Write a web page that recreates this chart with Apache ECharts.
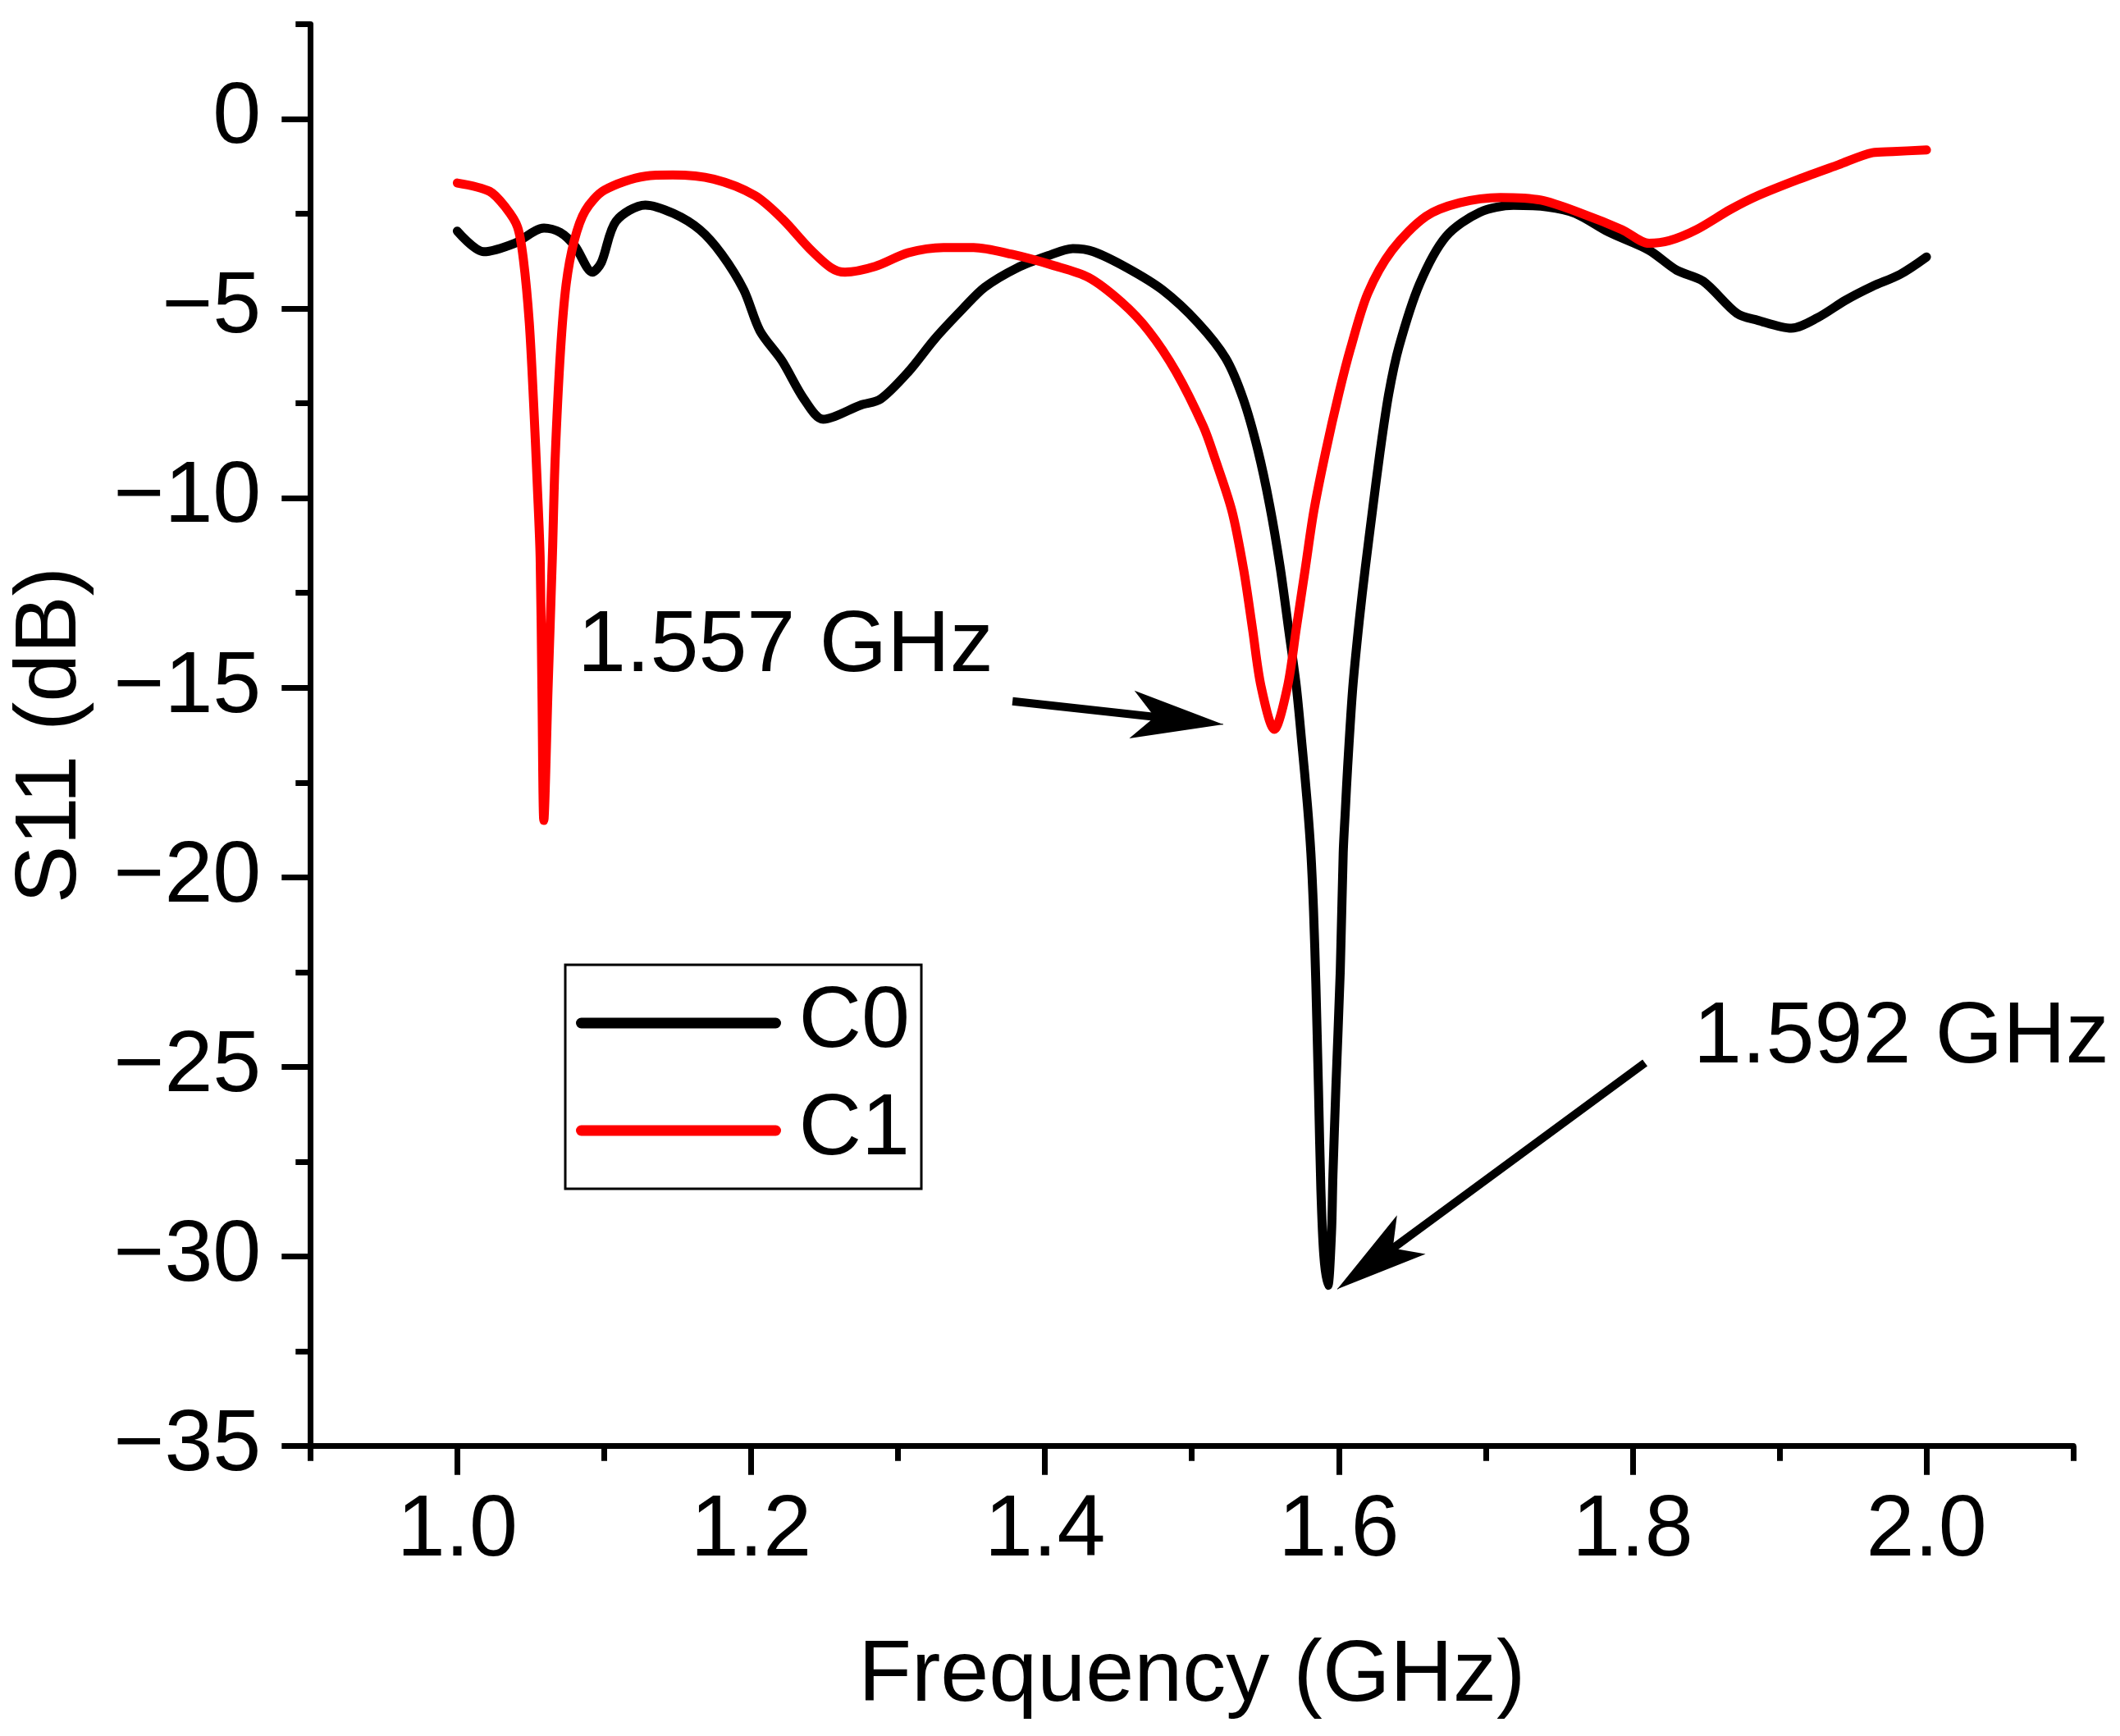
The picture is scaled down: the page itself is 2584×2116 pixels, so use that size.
<!DOCTYPE html>
<html>
<head>
<meta charset="utf-8">
<title>S11</title>
<script src="https://cdn.jsdelivr.net/npm/echarts@6/dist/echarts.min.js"></script>
<style>
  html, body { margin: 0; padding: 0; background: #fff; }
  #chart { width: 2584px; height: 2116px; }
</style>
</head>
<body>
<div id="chart"></div>
<script>
// tick labels
var xTicks = ['0.9', '1.0', '1.1', '1.2', '1.3', '1.4', '1.5', '1.6', '1.7', '1.8', '1.9', '2.0', '2.1'];
var yTicks = ['-35', '-32.5', '-30', '-27.5', '-25', '-22.5', '-20', '-17.5', '-15', '-12.5', '-10', '-7.5', '-5', '-2.5', '0', '2.5'];

// C0 (black)
var c0Freq = [1.000, 1.018, 1.039, 1.059, 1.070, 1.080, 1.092, 1.098, 1.108, 1.128, 1.147, 1.165, 1.180, 1.195,
  1.206, 1.221, 1.236, 1.249, 1.275, 1.288, 1.307, 1.325, 1.344, 1.359, 1.381, 1.402, 1.419, 1.433, 1.456,
  1.480, 1.504, 1.523, 1.535, 1.545, 1.553, 1.560, 1.566, 1.5711, 1.5750, 1.5786, 1.5810, 1.5828, 1.5844, 1.5862,
  1.5878, 1.5898, 1.5926, 1.5950, 1.5960, 1.5980, 1.6010, 1.6030, 1.6045, 1.6060, 1.6095, 1.6140, 1.6180, 1.6230,
  1.6280, 1.6340, 1.641, 1.655, 1.673,
  1.696, 1.719, 1.742, 1.761, 1.784, 1.811, 1.830, 1.848, 1.871, 1.885, 1.908, 1.926, 1.945, 1.963, 1.982, 2.000];
var c0S11 = [-2.96, -3.50, -3.28, -2.88, -2.99, -3.35, -4.04, -3.79, -2.70, -2.27, -2.49, -2.92, -3.57, -4.51,
  -5.59, -6.38, -7.39, -7.92, -7.54, -7.39, -6.67, -5.80, -5.01, -4.44, -3.93, -3.61, -3.42, -3.50, -3.93,
  -4.51, -5.37, -6.31, -7.39, -8.75, -10.20, -11.80, -13.50, -14.97, -16.53, -18.07, -19.36, -20.88, -22.83, -25.64,
  -28.23, -29.97, -30.76, -29.40, -27.87, -25.55, -22.46, -19.36, -18.20, -17.10, -15.00, -13.20, -11.85, -10.30,
  -8.80, -7.25, -6.00, -4.35, -3.10,
  -2.46, -2.28, -2.32, -2.49, -2.99, -3.46, -3.99, -4.28, -5.13, -5.31, -5.52, -5.24, -4.78, -4.42, -4.10, -3.64];

// C1 (red)
var c1Freq = [1.000, 1.022, 1.033, 1.041, 1.045, 1.049, 1.052, 1.0545, 1.0564, 1.0576, 1.0589, 1.0618, 1.0647,
  1.0666, 1.0703, 1.0741, 1.0796, 1.0871, 1.1001, 1.1281, 1.1467, 1.1746, 1.2025, 1.2211, 1.2398, 1.2546, 1.2639,
  1.2844, 1.3068, 1.3310, 1.3514, 1.3775, 1.4054, 1.4296, 1.4520, 1.4706, 1.4892, 1.5078, 1.5152, 1.5272, 1.5352,
  1.5412, 1.5471, 1.5561, 1.5651, 1.5711, 1.5771, 1.5830, 1.5910, 1.6000, 1.608, 1.6197, 1.6363, 1.6593, 1.6823,
  1.7100, 1.7376, 1.7652, 1.7928, 1.8112, 1.8250, 1.8435, 1.8665, 1.8849, 1.9125, 1.9401, 1.9632, 1.9770, 2.0000];
var c1S11 = [-1.69, -1.91, -2.34, -2.85, -3.71, -5.37, -7.54, -9.70, -11.57, -15.0, -18.5, -15.0, -11.57,
  -8.98, -6.09, -4.36, -3.21, -2.42, -1.88, -1.51, -1.48, -1.59, -2.02, -2.63, -3.42, -3.93, -4.04,
  -3.89, -3.53, -3.39, -3.39, -3.57, -3.86, -4.18, -4.83, -5.59, -6.67, -8.11, -8.9, -10.33, -11.88,
  -13.43, -14.97, -16.10, -14.97, -13.43, -11.88, -10.34, -8.79, -7.25, -6.05, -4.60, -3.46, -2.57, -2.21,
  -2.07, -2.14, -2.49, -2.92, -3.28, -3.21, -2.92, -2.39, -2.03, -1.60, -1.21, -0.89, -0.86, -0.82];

// annotations: [x, y] in data units; neck = where the shaft stops under the head
var note1 = { text: '1.557 GHz', at: [1.0819, -13.93], from: [1.3779, -15.355], neck: [1.5057, -15.90], to: [1.5213, -15.965] };
var note2 = { text: '1.592 GHz', at: [1.8414, -24.24], from: [1.8084, -24.89], neck: [1.6116, -30.50], to: [1.599, -30.86] };

var FONT = 'Liberation Sans, Arial, sans-serif';
var FS = 106;

function pairs(xs, ys) {
  var out = [];
  for (var i = 0; i < xs.length; i++) out.push([xs[i], ys[i]]);
  return out;
}
function noteLabel(n) {
  return {
    coord: n.at, symbolSize: 0,
    label: { show: true, position: 'right', distance: 0, formatter: n.text,
      color: '#000', fontSize: FS, fontFamily: FONT }
  };
}
function noteShaft(n) {
  return [{ coord: n.from, symbol: 'none' }, { coord: n.neck, symbol: 'none' }];
}
function noteHead(n) {
  return [{ coord: n.neck, symbol: 'none', lineStyle: { width: 1 } }, { coord: n.to, symbol: 'arrow' }];
}

var chart = echarts.init(document.getElementById('chart'), null, { renderer: 'canvas' });

var hiddenAxis = {
  axisLine: { show: false, onZero: false }, axisTick: { show: false },
  axisLabel: { show: false }, splitLine: { show: false }
};

var option = {
  animation: false,
  backgroundColor: '#fff',
  grid: { left: 378.3, right: 56.8, top: 29.4, bottom: 353.3, containLabel: false },
  legend: {
    orient: 'vertical', left: 689, top: 1176,
    padding: [18, 14, 18, 13], itemGap: 25,
    itemWidth: 237, itemHeight: 13,
    borderColor: '#000', borderWidth: 3, borderRadius: 0,
    selectedMode: false,
    lineStyle: { width: 13, cap: 'round' },
    textStyle: { color: '#000', fontSize: FS, fontFamily: FONT, lineHeight: FS, padding: [0, 0, 0, 23] },
    data: ['C0', 'C1']
  },
  xAxis: [
    Object.assign({ type: 'value', min: 0.9, max: 2.1 }, hiddenAxis),
    {
      type: 'category', data: xTicks, boundaryGap: false, position: 'bottom',
      axisLine: { show: true, onZero: false, lineStyle: { color: '#000', width: 7 } },
      axisTick: { show: true, interval: 0, length: 18, lineStyle: { color: '#000', width: 7 } },
      axisLabel: { show: false }, splitLine: { show: false }
    },
    {
      type: 'category', data: xTicks, boundaryGap: false, position: 'bottom',
      axisLine: { show: false, onZero: false },
      axisTick: { show: true, length: 35, interval: function (i) { return i % 2 === 1; },
        lineStyle: { color: '#000', width: 7 } },
      axisLabel: { show: true, margin: 51, interval: function (i) { return i % 2 === 1; },
        color: '#000', fontSize: FS, fontFamily: FONT },
      splitLine: { show: false },
      name: 'Frequency (GHz)', nameLocation: 'middle', nameGap: 228,
      nameTextStyle: { color: '#000', fontSize: FS, fontFamily: FONT }
    }
  ],
  yAxis: [
    Object.assign({ type: 'value', min: -35, max: 2.5 }, hiddenAxis),
    {
      type: 'category', data: yTicks, boundaryGap: false, position: 'left',
      axisLine: { show: true, onZero: false, lineStyle: { color: '#000', width: 7 } },
      axisTick: { show: true, interval: 0, length: 18, lineStyle: { color: '#000', width: 7 } },
      axisLabel: { show: false }, splitLine: { show: false }
    },
    {
      type: 'category', data: yTicks, boundaryGap: false, position: 'left',
      axisLine: { show: false, onZero: false },
      axisTick: { show: true, length: 35, interval: function (i) { return i % 2 === 0; },
        lineStyle: { color: '#000', width: 7 } },
      axisLabel: { show: true, margin: 60, interval: function (i) { return i % 2 === 0; },
        color: '#000', fontSize: FS, fontFamily: FONT, padding: [0, 0, 13, 0],
        formatter: function (v) { return v.replace('-', '\u2212'); } },
      splitLine: { show: false },
      name: 'S11 (dB)', nameLocation: 'middle', nameRotate: 90, nameGap: 263,
      nameTextStyle: { color: '#000', fontSize: FS, fontFamily: FONT }
    }
  ],
  series: [
    {
      name: 'C0', type: 'line', xAxisIndex: 0, yAxisIndex: 0,
      data: pairs(c0Freq, c0S11),
      showSymbol: false, symbol: 'none', smooth: 0.3,
      lineStyle: { color: '#000', width: 11, join: 'round', cap: 'round' },
      itemStyle: { color: '#000' },
      markPoint: {
        silent: true, symbol: 'circle', itemStyle: { color: 'transparent' },
        data: [noteLabel(note1), noteLabel(note2)]
      }
    },
    {
      name: 'C1', type: 'line', xAxisIndex: 0, yAxisIndex: 0,
      data: pairs(c1Freq, c1S11),
      showSymbol: false, symbol: 'none', smooth: 0.3,
      lineStyle: { color: '#ff0000', width: 11, join: 'round', cap: 'round' },
      itemStyle: { color: '#ff0000' },
      markLine: {
        silent: true, symbol: ['none', 'none'], symbolSize: [44, 112],
        label: { show: false },
        lineStyle: { color: '#000', width: 10, type: 'solid' },
        itemStyle: { color: '#000' },
        data: [noteShaft(note1), noteHead(note1), noteShaft(note2), noteHead(note2)]
      }
    }
  ]
};

chart.setOption(option);
</script>
</body>
</html>
